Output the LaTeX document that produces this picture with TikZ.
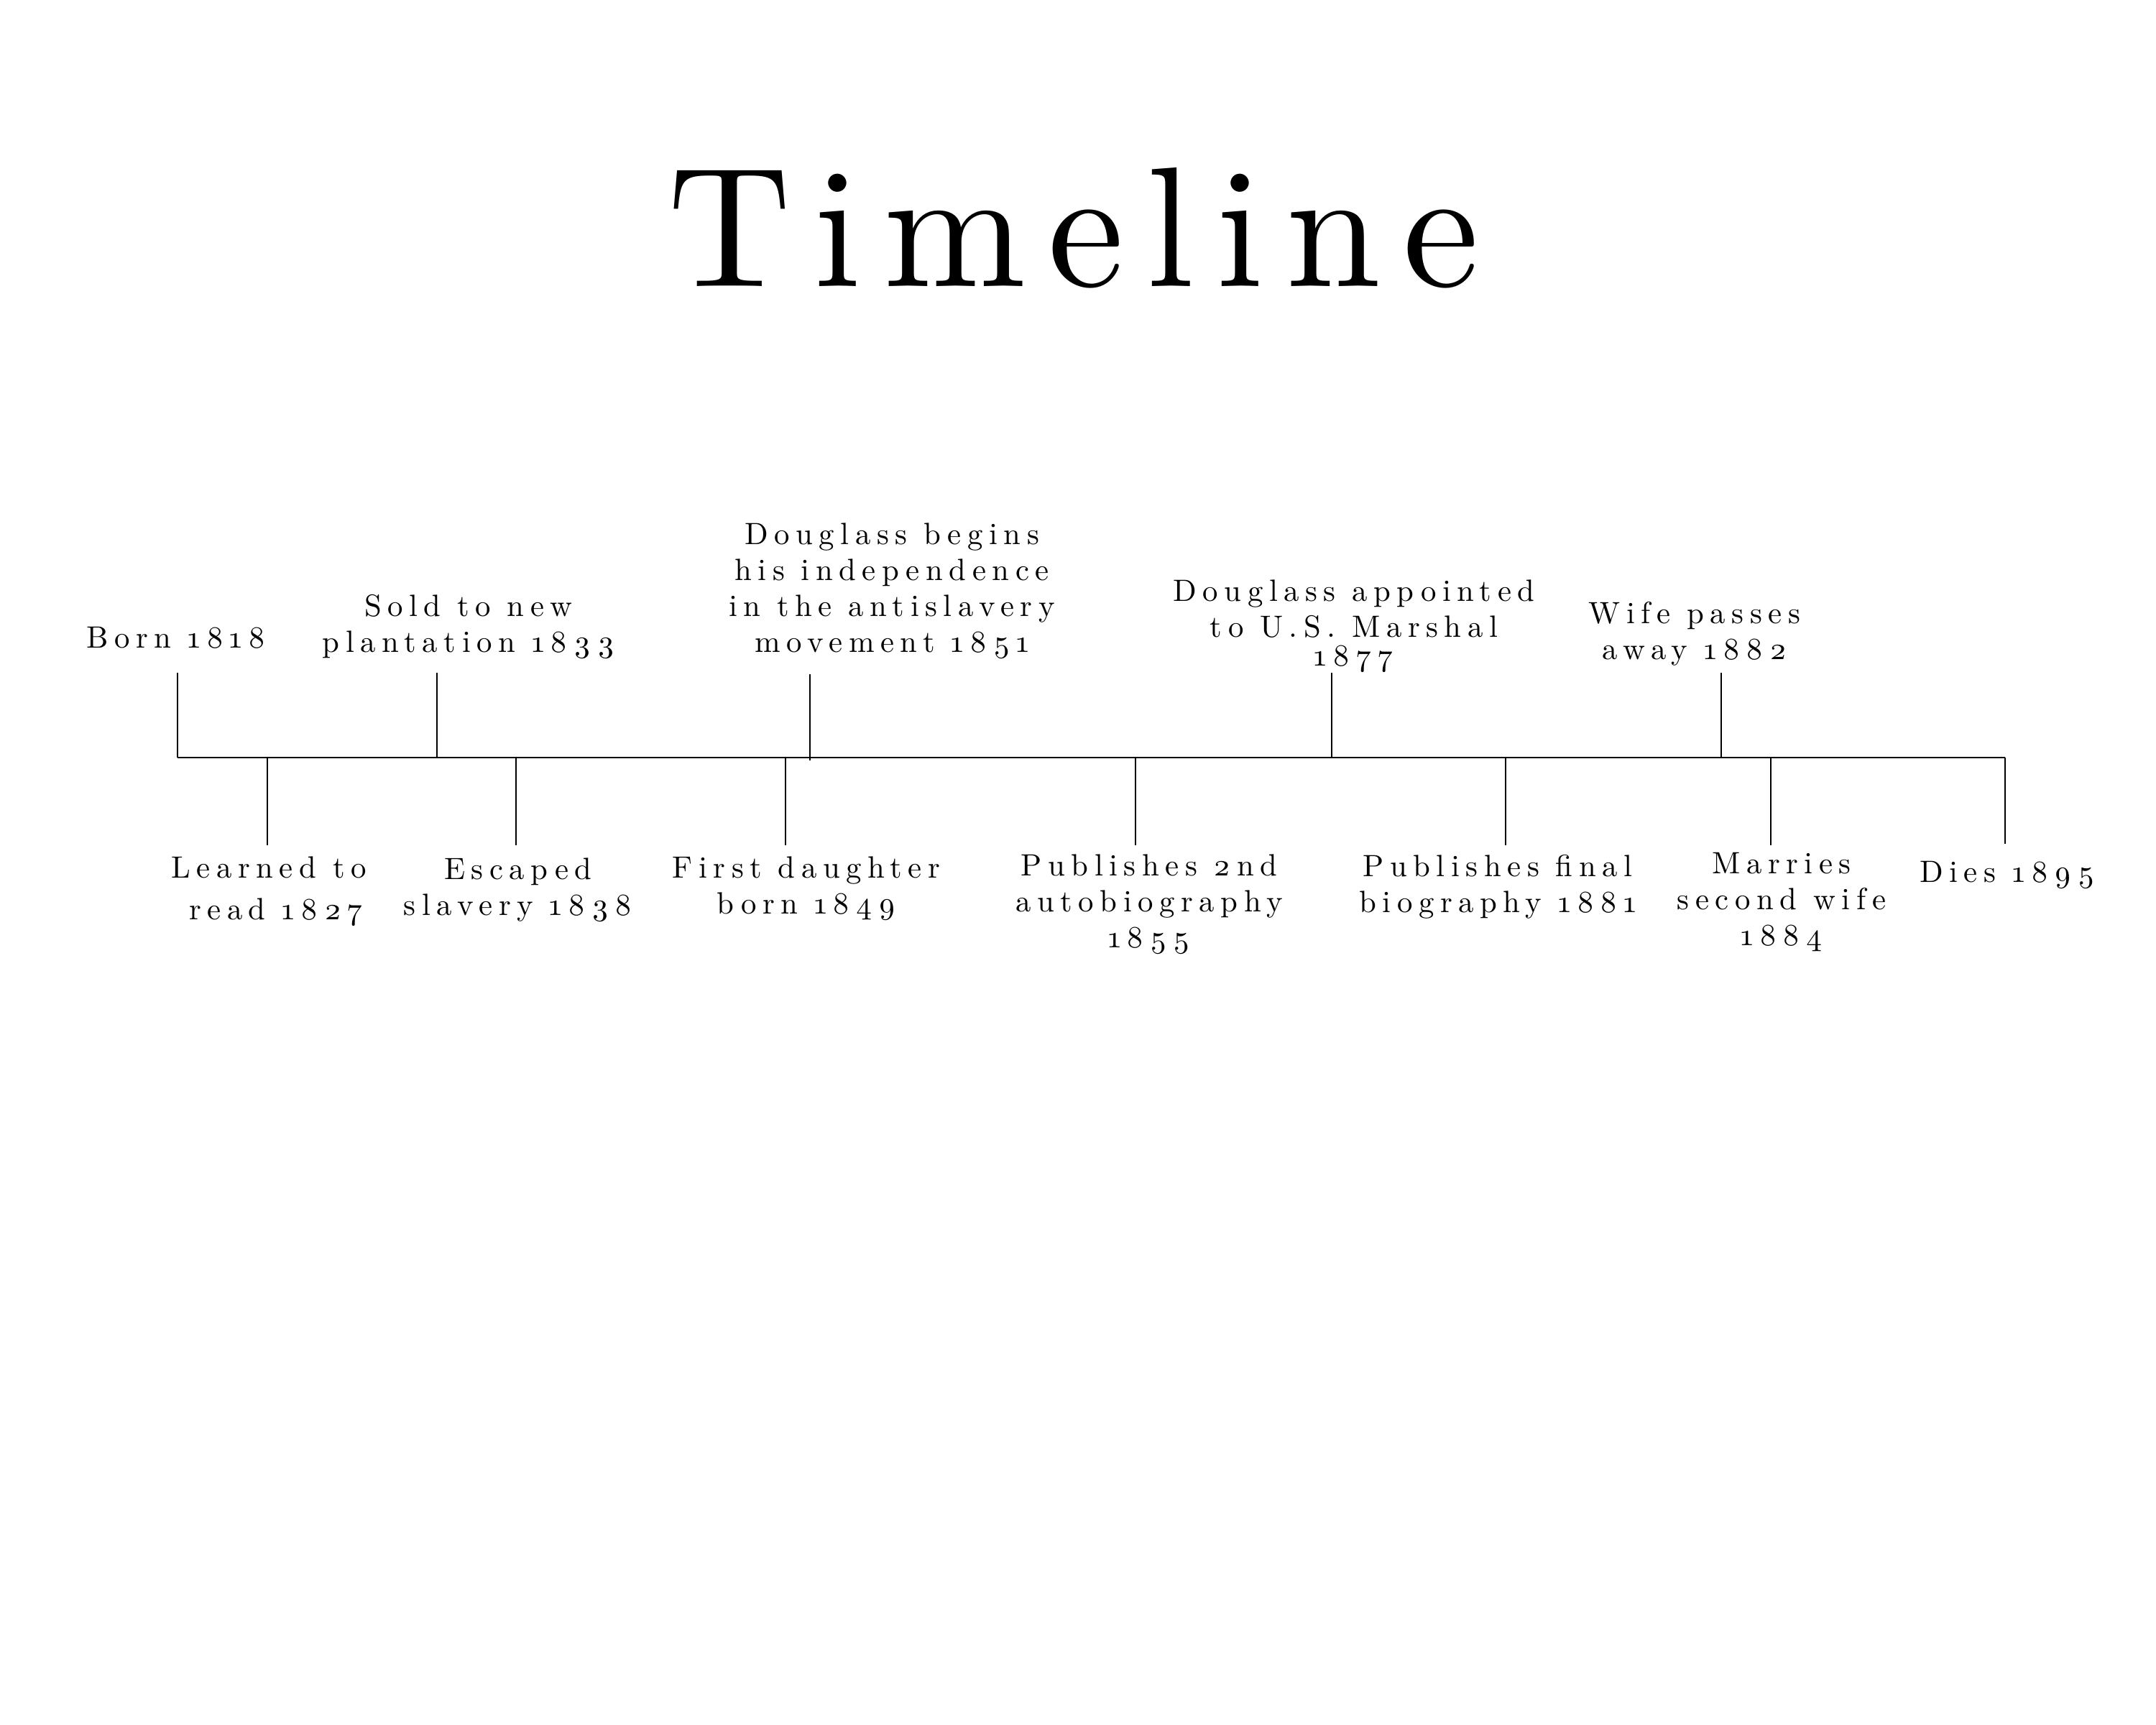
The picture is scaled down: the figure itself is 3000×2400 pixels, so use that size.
\documentclass[tikz,border=0pt]{standalone}
\usepackage{fontspec}
\newfontfamily\lblfont{lmroman10-regular.otf}[LetterSpace=20,Numbers=OldStyle]
\newfontfamily\ttlfont{lmroman10-regular.otf}[LetterSpace=13]
\tikzset{
  lbl/.style={font=\lblfont\fontsize{10.7}{12.5}\selectfont, align=center, anchor=base, inner sep=0pt},
  ttl/.style={font=\ttlfont\fontsize{59.5}{70}\selectfont, anchor=base, inner sep=0pt},
  tickline/.style={line width=0.4pt, black},
}
\begin{document}
\begin{tikzpicture}[x=0.25pt,y=-0.25pt]
\fill[white] (0,0) rectangle (3000,2400);
\useasboundingbox (0,0) rectangle (3000,2400);
% title
\node[ttl] (title) at (1494,398) {Timeline};
% axis
\coordinate (L) at (247,1054);
\coordinate (R) at (2790,1054);
\draw[tickline] (L) -- (R);
% upper ticks
\coordinate (u1) at (247,936);
\coordinate (u2) at (608,936);
\coordinate (u3) at (1127,938);
\coordinate (u4) at (1853,936);
\coordinate (u5) at (2395,936);
\foreach \c in {u1,u2,u4,u5} \draw[tickline] (\c) -- (\c |- L);
\coordinate (u3b) at (1127,1058);
\draw[tickline] (u3) -- (u3b);
% lower ticks
\coordinate (d1) at (372,1176);
\coordinate (d2) at (718,1176);
\coordinate (d3) at (1093,1176);
\coordinate (d4) at (1580,1176);
\coordinate (d5) at (2095,1176);
\coordinate (d6) at (2464,1176);
\coordinate (d7) at (2790,1174);
\foreach \c in {d1,d2,d3,d4,d5,d6,d7} \draw[tickline] (\c |- L) -- (\c);
% upper labels (anchor = baseline of last line)
\node[lbl] (born) at (245,901) {Born 1818};
\node[lbl] (sold) at (652,907) {Sold to new\\plantation 1833};
\node[lbl] (begins) at (1241,907) {Douglass begins\\his independence\\in the antislavery\\movement 1851};
\node[lbl] (marshal) at (1884,926) {Douglass appointed\\to U.S. Marshal\\[-2.5pt]1877};
\node[lbl] (wife) at (2358,917) {Wife passes\\away 1882};
% lower labels
\node[lbl] (read) at (374,1279) {Learned to\\[2pt]\hspace*{5pt}read 1827};
\node[lbl] (escaped) at (721,1273) {Escaped\\slavery 1838};
\node[lbl] (daughter) at (1122,1271) {First daughter\\born 1849};
\node[lbl] (second) at (1599,1318) {Publishes 2nd\\autobiography\\1855};
\node[lbl] (final) at (2084,1269) {Publishes final\\biography 1881};
\node[lbl] (marries) at (2479,1315) {Marries\\second wife\\1884};
\node[lbl] (dies) at (2793,1227) {Dies 1895};
\end{tikzpicture}
\end{document}
